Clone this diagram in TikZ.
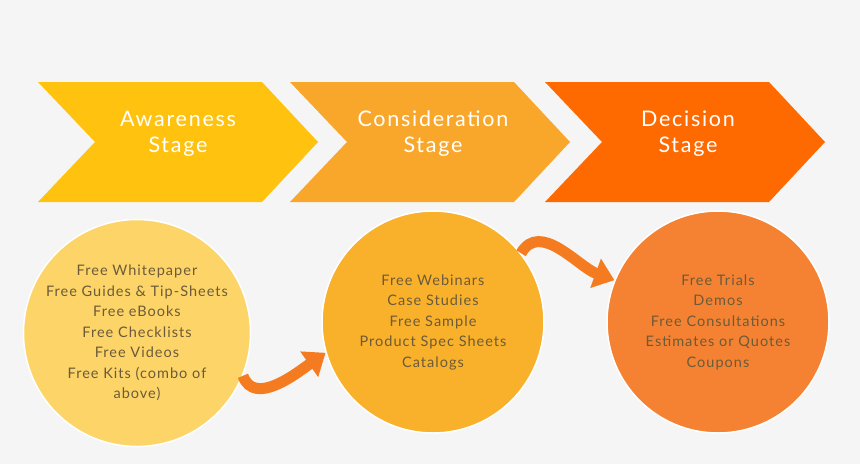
\documentclass[tikz,border=0pt]{standalone}
\usepackage{fontspec}
\setmainfont{Lato}
\usetikzlibrary{arrows.meta}
\definecolor{bg}{HTML}{F5F5F5}
\definecolor{stageA}{HTML}{FFC20E}
\definecolor{stageB}{HTML}{F9A72B}
\definecolor{stageC}{HTML}{FF6A00}
\definecolor{circA}{HTML}{FDD468}
\definecolor{circB}{HTML}{F9B02A}
\definecolor{circC}{HTML}{F58232}
\definecolor{txt}{HTML}{6B5B3A}
\definecolor{flow}{HTML}{F47B20}
\tikzset{
  stage/.style={text=white, font=\fontsize{21.5}{26}\selectfont\addfontfeatures{LetterSpace=8}, align=center},
  item/.style={circle, draw=white, line width=1.5pt, text=txt, align=center,
    font=\fontsize{14.5}{20.5}\selectfont\addfontfeatures{LetterSpace=7}, inner sep=0pt},
  flowarrow/.style={flow, line width=11pt, -{Triangle[length=20pt,width=30pt]}}
}
\begin{document}
\begin{tikzpicture}[x=1pt,y=-1pt]
    \fill[bg] (0,0) rectangle (860,464);
    %% chevrons
    \fill[stageA] (38,82) -- (262,82) -- (318,142) -- (262,202) -- (38,202) -- (95,142) -- cycle;
    \fill[stageB] (290,82) -- (514,82) -- (570,142) -- (514,202) -- (290,202) -- (347,142) -- cycle;
    \fill[stageC] (545,82) -- (769,82) -- (825,142) -- (769,202) -- (545,202) -- (602,142) -- cycle;
    \node[stage] (aware) at (178,134) {Awareness\\Stage};
    \node[stage] (consid) at (433,134) {Consideration\\Stage};
    \node[stage] (decide) at (688,134) {Decision\\Stage};
    %% circles
    \node[item, fill=circA, minimum size=210pt] (free) at (137,333)
      {Free Whitepaper\\Free Guides \& Tip-Sheets\\Free eBooks\\Free Checklists\\Free Videos\\Free Kits (combo of\\above)};
    \node[item, fill=circB, minimum size=222pt] (eval) at (433,322)
      {Free Webinars\\Case Studies\\Free Sample\\Product Spec Sheets\\Catalogs};
    \node[item, fill=circC, minimum size=222pt] (buy) at (718,322)
      {Free Trials\\Demos\\Free Consultations\\Estimates or Quotes\\Coupons};
    \draw[flowarrow] (free.-22) to[out=-70, in=215] (eval.196);
    \draw[flowarrow] (eval.38) to[out=60, in=160] (buy.158);
\end{tikzpicture}
\end{document}
